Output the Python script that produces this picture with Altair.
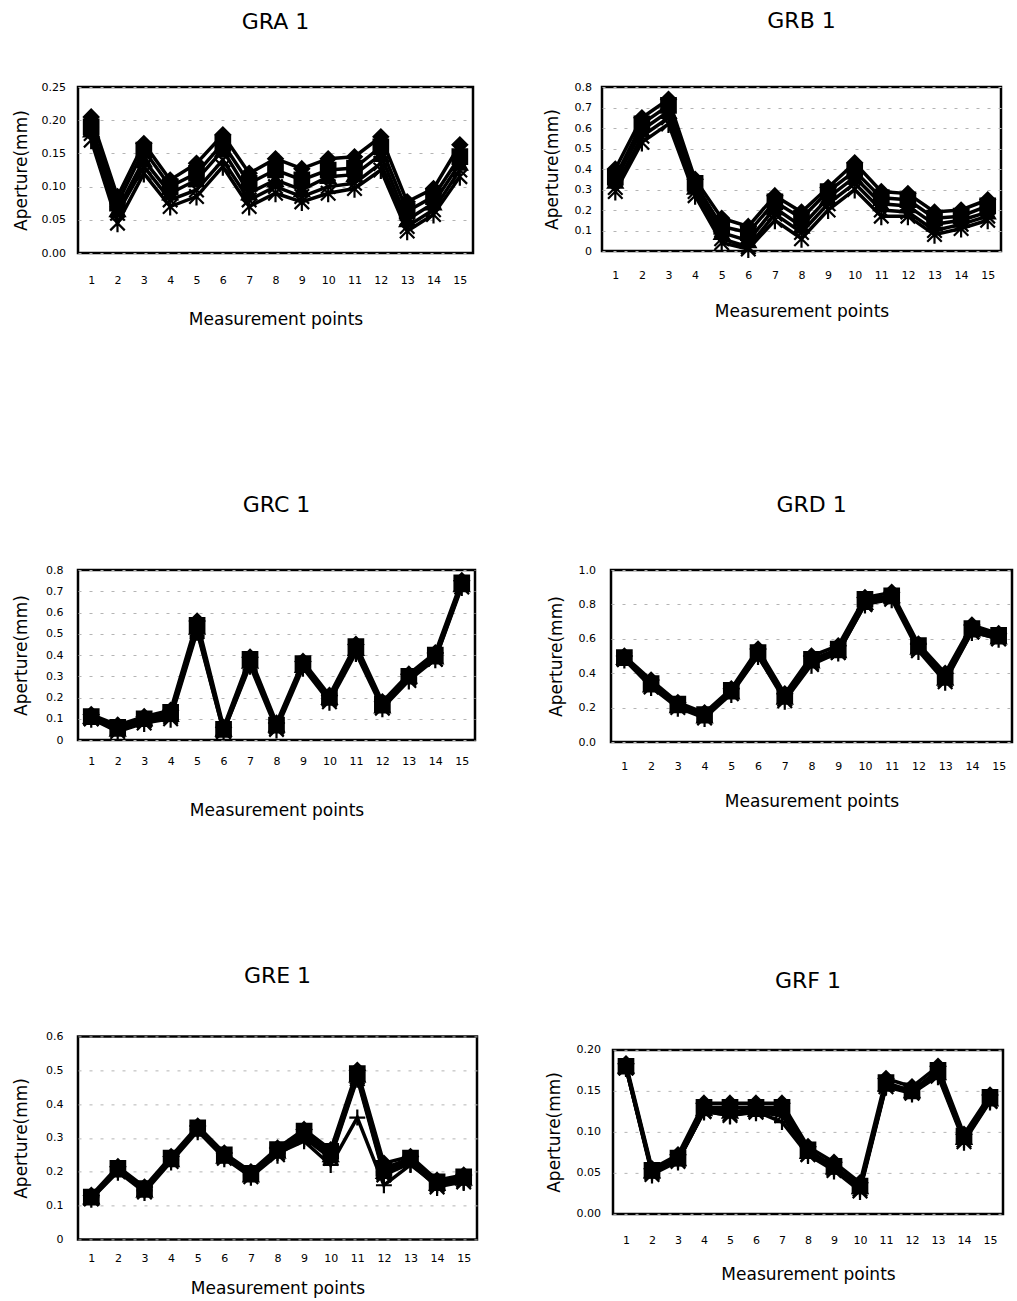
import altair as alt
import pandas as pd

# Measurement point labels shared by every panel
points = list(range(1, 16))

# ---- GRA 1 ----
gra_diamond = [0.205, 0.085, 0.165, 0.110, 0.135, 0.178, 0.120, 0.142, 0.127, 0.142, 0.145, 0.175, 0.077, 0.097, 0.163]
gra_square = [0.190, 0.075, 0.155, 0.100, 0.120, 0.165, 0.105, 0.125, 0.110, 0.125, 0.128, 0.160, 0.063, 0.085, 0.145]
gra_triangle = [0.185, 0.065, 0.140, 0.090, 0.110, 0.155, 0.090, 0.110, 0.095, 0.115, 0.118, 0.148, 0.050, 0.075, 0.135]
gra_x = [0.180, 0.060, 0.130, 0.080, 0.095, 0.140, 0.080, 0.100, 0.085, 0.100, 0.105, 0.135, 0.040, 0.065, 0.125]
gra_asterisk = [0.170, 0.045, 0.120, 0.070, 0.085, 0.130, 0.070, 0.090, 0.077, 0.090, 0.097, 0.125, 0.033, 0.058, 0.115]

# ---- GRB 1 ----
grb_diamond = [0.40, 0.65, 0.74, 0.35, 0.16, 0.12, 0.27, 0.19, 0.31, 0.43, 0.29, 0.28, 0.19, 0.20, 0.25]
grb_square = [0.36, 0.62, 0.71, 0.33, 0.12, 0.09, 0.24, 0.16, 0.29, 0.39, 0.26, 0.25, 0.16, 0.17, 0.22]
grb_triangle = [0.34, 0.59, 0.68, 0.31, 0.09, 0.05, 0.21, 0.12, 0.26, 0.36, 0.23, 0.22, 0.13, 0.15, 0.19]
grb_x = [0.31, 0.56, 0.65, 0.29, 0.06, 0.02, 0.18, 0.09, 0.23, 0.33, 0.20, 0.19, 0.10, 0.13, 0.17]
grb_asterisk = [0.29, 0.53, 0.62, 0.27, 0.04, 0.01, 0.15, 0.06, 0.20, 0.30, 0.17, 0.17, 0.08, 0.11, 0.15]

# ---- GRC 1 ----
grc_diamond = [0.12, 0.07, 0.11, 0.14, 0.56, 0.06, 0.39, 0.08, 0.37, 0.21, 0.45, 0.18, 0.31, 0.41, 0.75]
grc_square = [0.11, 0.06, 0.10, 0.13, 0.54, 0.05, 0.38, 0.07, 0.36, 0.20, 0.44, 0.17, 0.30, 0.40, 0.74]
grc_triangle = [0.11, 0.05, 0.10, 0.12, 0.53, 0.05, 0.37, 0.07, 0.35, 0.20, 0.43, 0.16, 0.30, 0.39, 0.73]
grc_x = [0.10, 0.05, 0.09, 0.11, 0.52, 0.04, 0.36, 0.06, 0.35, 0.19, 0.42, 0.16, 0.29, 0.38, 0.73]
grc_asterisk = [0.10, 0.04, 0.08, 0.10, 0.51, 0.04, 0.35, 0.05, 0.34, 0.18, 0.41, 0.15, 0.28, 0.38, 0.72]

# ---- GRD 1 ----
grd_diamond = [0.50, 0.36, 0.23, 0.17, 0.31, 0.54, 0.28, 0.50, 0.56, 0.84, 0.87, 0.57, 0.40, 0.68, 0.63]
grd_square = [0.49, 0.34, 0.22, 0.16, 0.30, 0.52, 0.27, 0.48, 0.54, 0.83, 0.85, 0.56, 0.38, 0.66, 0.62]
grd_triangle = [0.49, 0.33, 0.21, 0.15, 0.29, 0.51, 0.26, 0.47, 0.53, 0.81, 0.85, 0.55, 0.37, 0.65, 0.61]
grd_x = [0.48, 0.33, 0.21, 0.15, 0.29, 0.50, 0.25, 0.46, 0.52, 0.80, 0.84, 0.54, 0.36, 0.64, 0.60]
grd_asterisk = [0.48, 0.32, 0.20, 0.14, 0.28, 0.50, 0.24, 0.45, 0.52, 0.80, 0.83, 0.53, 0.35, 0.64, 0.60]

# ---- GRE 1 ----
gre_diamond = [0.130, 0.215, 0.155, 0.245, 0.335, 0.255, 0.200, 0.270, 0.325, 0.265, 0.500, 0.225, 0.245, 0.175, 0.190]
gre_square = [0.125, 0.210, 0.150, 0.240, 0.330, 0.250, 0.195, 0.265, 0.320, 0.260, 0.490, 0.210, 0.240, 0.170, 0.185]
gre_triangle = [0.125, 0.205, 0.145, 0.235, 0.325, 0.245, 0.190, 0.260, 0.310, 0.250, 0.485, 0.200, 0.235, 0.165, 0.180]
gre_x = [0.120, 0.205, 0.145, 0.235, 0.325, 0.245, 0.190, 0.255, 0.305, 0.245, 0.480, 0.195, 0.230, 0.160, 0.175]
gre_asterisk = [0.120, 0.200, 0.140, 0.230, 0.320, 0.240, 0.185, 0.250, 0.300, 0.240, 0.475, 0.190, 0.225, 0.155, 0.170]
gre_plus = [0.125, 0.205, 0.145, 0.235, 0.325, 0.245, 0.190, 0.255, 0.290, 0.220, 0.360, 0.160, 0.220, 0.160, 0.170]

# ---- GRF 1 ----
grf_diamond = [0.183, 0.055, 0.072, 0.135, 0.135, 0.135, 0.135, 0.082, 0.063, 0.038, 0.165, 0.155, 0.180, 0.097, 0.145]
grf_square = [0.180, 0.053, 0.068, 0.130, 0.130, 0.130, 0.130, 0.078, 0.058, 0.034, 0.160, 0.150, 0.175, 0.095, 0.142]
grf_triangle = [0.180, 0.052, 0.067, 0.128, 0.125, 0.127, 0.128, 0.076, 0.057, 0.033, 0.158, 0.150, 0.172, 0.093, 0.140]
grf_x = [0.178, 0.050, 0.065, 0.125, 0.122, 0.125, 0.125, 0.073, 0.055, 0.030, 0.157, 0.148, 0.170, 0.090, 0.138]
grf_asterisk = [0.178, 0.048, 0.064, 0.125, 0.120, 0.124, 0.120, 0.072, 0.053, 0.028, 0.155, 0.147, 0.168, 0.088, 0.137]
grf_plus = [0.178, 0.050, 0.065, 0.125, 0.120, 0.125, 0.112, 0.072, 0.055, 0.030, 0.156, 0.148, 0.170, 0.090, 0.138]

# Marker glyph for each series (custom paths use the [-1, 1] unit box)
series_order = ["diamond", "triangle", "x", "asterisk", "plus", "square"]
shape_paths = [
    "M0,-1L1,0L0,1L-1,0Z",
    "triangle-up",
    "M-1,-1L1,1M-1,1L1,-1",
    "M-1,-1L1,1M-1,1L1,-1M0,-1.25L0,1.25",
    "M-1.1,0L1.1,0M0,-1.1L0,1.1",
    "square",
]

FONT = "DejaVu Sans"


def to_frame(series):
    rows = []
    for name in series_order:
        if name in series:
            for p, v in zip(points, series[name]):
                rows.append({"point": p, "aperture": v, "series": name})
    return pd.DataFrame(rows)


def panel(title, series, ymax, ystep, fmt, width, height,
          title_offset, ylab_pad, ytitle_pad, xlab_pad, xtitle_pad):
    df = to_frame(series)
    n = int(round(ymax / ystep))
    ticks = [round(i * ystep, 4) for i in range(n + 1)]
    x = alt.X(
        "point:O",
        sort=points,
        scale=alt.Scale(type="point", padding=0.5),
        axis=alt.Axis(
            title="Measurement points",
            labelAngle=0,
            ticks=False,
            tickSize=0,
            domain=False,
            grid=False,
            labelFont=FONT,
            labelFontSize=11,
            labelColor="black",
            labelPadding=xlab_pad,
            titleFont=FONT,
            titleFontSize=17,
            titleFontWeight="normal",
            titleColor="black",
            titlePadding=xtitle_pad,
        ),
    )
    y = alt.Y(
        "aperture:Q",
        scale=alt.Scale(domain=[0, ymax], nice=False, zero=True),
        axis=alt.Axis(
            title="Aperture(mm)",
            values=ticks,
            format=fmt,
            ticks=False,
            tickSize=0,
            domain=False,
            grid=True,
            gridColor="#b4b4b4",
            gridDash=[3, 8],
            gridWidth=1,
            labelFont=FONT,
            labelFontSize=11,
            labelColor="black",
            labelPadding=ylab_pad,
            titleFont=FONT,
            titleFontSize=17,
            titleFontWeight="normal",
            titleColor="black",
            titlePadding=ytitle_pad,
        ),
    )
    base = alt.Chart(df)
    lines = base.mark_line(color="black", strokeWidth=3.5).encode(
        x=x, y=y, detail="series:N"
    )
    marks = base.mark_point(
        fill="black", stroke="black", strokeWidth=2.2, opacity=1, filled=True, size=210
    ).encode(
        x=x,
        y=y,
        shape=alt.Shape(
            "series:N",
            scale=alt.Scale(domain=series_order, range=shape_paths),
            legend=None,
        ),
    )
    return (lines + marks).properties(
        width=width,
        height=height,
        title=alt.TitleParams(
            title,
            font=FONT,
            fontSize=22,
            fontWeight="normal",
            color="black",
            anchor="middle",
            offset=title_offset,
        ),
    )


gra = panel("GRA 1", {"diamond": gra_diamond, "square": gra_square, "triangle": gra_triangle,
                      "x": gra_x, "asterisk": gra_asterisk},
            0.25, 0.05, ".2f", 395, 166, 47, 12.5, 11, 21, 26)
grb = panel("GRB 1", {"diamond": grb_diamond, "square": grb_square, "triangle": grb_triangle,
                      "x": grb_x, "asterisk": grb_asterisk},
            0.8, 0.1, "", 399, 164, 48, 10.5, 13, 18, 23)
grc = panel("GRC 1", {"diamond": grc_diamond, "square": grc_square, "triangle": grc_triangle,
                      "x": grc_x, "asterisk": grc_asterisk},
            0.8, 0.1, "", 397, 170, 47, 15, 15, 15, 36)
grd = panel("GRD 1", {"diamond": grd_diamond, "square": grd_square, "triangle": grd_triangle,
                      "x": grd_x, "asterisk": grd_asterisk},
            1.0, 0.2, ".1f", 401, 172, 47, 15.5, 13, 18, 22)
gre = panel("GRE 1", {"diamond": gre_diamond, "square": gre_square, "triangle": gre_triangle,
                      "x": gre_x, "asterisk": gre_asterisk, "plus": gre_plus},
            0.6, 0.1, "", 399, 203, 42, 15, 15, 13, 17)
grf = panel("GRF 1", {"diamond": grf_diamond, "square": grf_square, "triangle": grf_triangle,
                      "x": grf_x, "asterisk": grf_asterisk, "plus": grf_plus},
            0.20, 0.05, ".2f", 390, 164, 51, 12.5, 13, 21, 21)

row1 = alt.hconcat(gra, grb, spacing=66)
row2 = alt.hconcat(grc, grd, spacing=68)
row3 = alt.hconcat(gre, grf, spacing=64, center=True)

lower = alt.concat(row2, row3, columns=1, align="none", spacing=144)
chart = alt.concat(
    row1, lower, columns=1, align="none", spacing=163
).properties(
    padding={"left": 10, "top": 8, "right": 2, "bottom": 2},
    background="white",
).configure_view(
    stroke="black",
    strokeWidth=2.5,
)

chart.save("out.html", embed_options={"renderer": "svg", "actions": False})
